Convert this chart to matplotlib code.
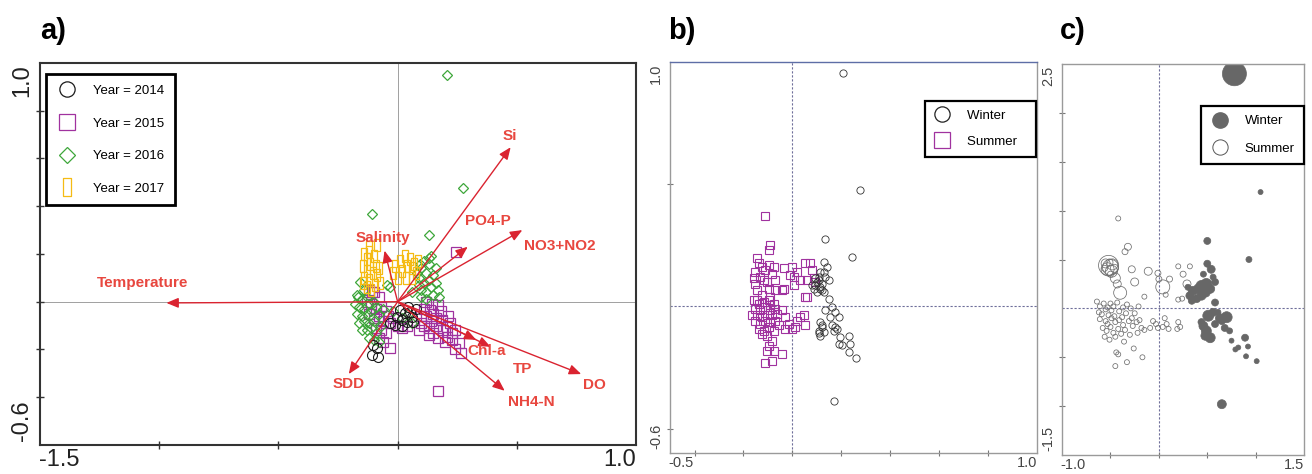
import numpy as np
import matplotlib
matplotlib.use("Agg")
import matplotlib.pyplot as plt
from matplotlib.lines import Line2D
from matplotlib.path import Path

plt.rcParams['font.family'] = ['Liberation Sans', 'DejaVu Sans']

# ---------------- panel a : samples by year (axis 1 / axis 2 scores)
year_labels = ['Year = 2014', 'Year = 2015', 'Year = 2016', 'Year = 2017']

a2014 = np.array([
    (0.01, -0.035), (0.031, -0.049), (0.052, -0.042), (0.017, -0.077), (0.038, -0.084),
    (0.059, -0.063), (-0.004, -0.063), (-0.032, -0.09), (-0.011, -0.098), (0.075, -0.03),
    (0.045, -0.02), (-0.102, -0.181), (-0.088, -0.195), (-0.109, -0.223), (-0.081, -0.23),
    (0.02, -0.1), (0.065, -0.085)])

a2015 = np.array([
    (-0.12, 0.05), (-0.10, 0.04), (-0.08, 0.02), (-0.11, -0.01), (-0.09, -0.03), (-0.07, -0.02),
    (-0.05, -0.04), (-0.12, -0.05), (-0.10, -0.07), (-0.08, -0.06), (-0.06, -0.08), (-0.04, -0.06),
    (-0.03, -0.09), (-0.09, -0.11), (-0.07, -0.12), (-0.05, -0.13), (-0.08, -0.15), (-0.06, -0.17),
    (-0.034, -0.195), (0.00, -0.10), (0.02, -0.11), (0.04, -0.10), (-0.02, -0.07), (-0.13, 0.0),
    (-0.109, 0.042),
    (0.135, -0.035), (0.17, -0.014), (0.187, -0.077), (0.099, -0.091), (0.205, -0.105),
    (0.24, -0.119), (0.205, -0.147), (0.258, -0.174), (0.267, -0.216), (0.11, -0.03),
    (0.12, -0.06), (0.14, -0.08), (0.15, -0.05), (0.16, -0.10), (0.13, -0.11), (0.18, -0.04),
    (0.19, -0.12), (0.22, -0.09), (0.11, -0.10), (0.15, -0.13), (0.17, -0.15), (0.20, -0.17),
    (0.23, -0.16), (0.24, -0.2), (0.10, -0.06), (0.12, 0.0), (0.145, -0.01), (0.21, -0.06),
    (0.23, -0.13), (0.09, -0.12), (0.16, -0.07), (0.13, -0.14),
    (0.245, 0.207), (0.17, -0.374)])

a2016 = np.array([
    (0.205, 0.95), (0.276, 0.478), (-0.109, 0.366), (0.131, 0.28), (0.131, 0.182),
    (-0.034, 0.063), (-0.157, 0.084), (-0.166, 0.021), (-0.046, 0.07), (0.059, 0.042),
    (0.08, 0.12), (0.09, 0.10), (0.10, 0.14), (0.11, 0.08), (0.12, 0.12), (0.13, 0.09),
    (0.14, 0.06), (0.10, 0.05), (0.12, 0.04), (0.15, 0.11), (0.16, 0.08), (0.13, 0.16),
    (0.14, 0.19), (0.11, 0.17), (0.09, 0.07), (0.15, 0.03), (0.17, 0.05), (0.12, 0.01),
    (0.16, 0.14), (0.10, 0.02), (0.175, 0.02), (0.095, 0.16),
    (-0.17, 0.03), (-0.15, 0.01), (-0.13, 0.02), (-0.16, -0.02), (-0.14, -0.03), (-0.12, -0.01),
    (-0.10, 0.0), (-0.17, -0.05), (-0.15, -0.06), (-0.13, -0.05), (-0.11, -0.04), (-0.09, -0.02),
    (-0.16, -0.09), (-0.14, -0.08), (-0.12, -0.09), (-0.10, -0.08), (-0.08, -0.05), (-0.13, -0.12),
    (-0.11, -0.11), (-0.15, -0.12), (-0.09, -0.13), (-0.12, -0.15), (-0.10, -0.16), (-0.07, -0.10),
    (-0.06, -0.03), (-0.18, -0.01), (-0.08, -0.17), (-0.14, 0.05),
    (0.02, -0.07), (0.06, -0.09), (0.045, -0.05), (-0.02, -0.04)])

a2017 = np.array([
    (-0.14, 0.20), (-0.13, 0.18), (-0.12, 0.21), (-0.145, 0.15), (-0.13, 0.13), (-0.115, 0.16),
    (-0.10, 0.19), (-0.09, 0.15), (-0.14, 0.10), (-0.12, 0.09), (-0.105, 0.12), (-0.085, 0.11),
    (-0.075, 0.08), (-0.13, 0.06), (-0.11, 0.05), (-0.095, 0.07), (-0.088, 0.238), (-0.12, 0.23),
    (-0.08, 0.14), (-0.145, 0.08),
    (-0.02, 0.12), (-0.01, 0.15), (0.01, 0.17), (0.02, 0.13), (0.035, 0.10), (0.05, 0.18),
    (0.06, 0.14), (0.07, 0.16), (0.075, 0.12), (0.085, 0.17), (0.04, 0.15), (0.0, 0.10),
    (0.06, 0.10), (0.03, 0.19)])

# environmental vectors (arrow tips)
env_names = ['Temperature', 'Si', 'PO4-P', 'NO3+NO2', 'Salinity', 'SDD', 'Chl-a', 'TP', 'NH4-N', 'DO']
env_x = [-0.97, 0.474, 0.294, 0.523, -0.055, -0.205, 0.39, 0.33, 0.449, 0.77]
env_y = [-0.005, 0.647, 0.23, 0.30, 0.214, -0.303, -0.189, -0.16, -0.373, -0.303]
# where the names sit
env_lab_x = [-1.07, 0.47, 0.38, 0.68, -0.06, -0.205, 0.373, 0.523, 0.562, 0.827]
env_lab_y = [0.08, 0.695, 0.34, 0.233, 0.266, -0.345, -0.205, -0.283, -0.419, -0.349]

# ---------------- panel b : winter / summer sample scores
b_winter = np.array([
    (0.206, 0.954), (0.276, 0.477), (0.132, 0.276), (0.244, 0.203), (0.172, -0.387),
    (0.128, 0.182), (0.142, 0.162), (0.114, 0.141), (0.135, 0.121), (0.148, 0.107),
    (0.108, 0.107), (0.094, 0.086), (0.114, 0.073), (0.101, 0.059), (0.128, 0.059),
    (0.087, 0.073), (0.121, 0.093), (0.108, 0.121), (0.094, 0.114), (0.08, 0.086),
    (0.10, 0.10), (0.115, 0.08), (0.13, 0.14), (0.12, 0.065),
    (0.148, 0.032), (0.162, -0.003), (0.135, -0.016), (0.176, -0.023), (0.155, -0.044),
    (0.189, -0.044), (0.114, -0.065), (0.121, -0.085), (0.108, -0.099), (0.128, -0.106),
    (0.114, -0.12), (0.162, -0.078), (0.176, -0.085), (0.183, -0.092), (0.169, -0.099),
    (0.12, -0.075), (0.11, -0.11), (0.196, -0.126), (0.23, -0.12), (0.203, -0.16),
    (0.237, -0.154), (0.23, -0.188), (0.26, -0.211), (0.189, -0.154)])

b_summer = np.array([
    (-0.113, 0.37), (-0.09, 0.251), (-0.097, 0.23),
    (-0.144, 0.196), (-0.138, 0.176), (-0.151, 0.141), (-0.124, 0.162), (-0.110, 0.148),
    (-0.131, 0.121), (-0.117, 0.107), (-0.151, 0.093), (-0.103, 0.100), (-0.083, 0.134),
    (-0.069, 0.107), (-0.097, 0.073), (-0.069, 0.066), (-0.042, 0.066), (-0.090, 0.039),
    (-0.124, 0.046), (-0.144, 0.066), (-0.158, 0.114), (-0.097, 0.169), (-0.076, 0.162),
    (-0.035, 0.155), (-0.001, 0.162), (0.005, 0.121), (-0.009, 0.128), (0.018, 0.141),
    (0.053, 0.176), (0.073, 0.176), (0.08, 0.148), (0.06, 0.107), (0.005, 0.086),
    (0.053, 0.039), (-0.035, 0.073), (0.087, 0.114), (0.033, 0.107), (0.06, 0.039), (0.094, 0.10),
    (-0.158, 0.025), (-0.138, 0.011), (-0.117, 0.018), (-0.097, 0.025), (-0.076, 0.011),
    (-0.151, -0.010), (-0.131, -0.016), (-0.110, -0.003), (-0.090, -0.016), (-0.069, -0.010),
    (-0.165, -0.037), (-0.144, -0.037), (-0.124, -0.044), (-0.103, -0.037), (-0.083, -0.037),
    (-0.062, -0.030), (-0.151, -0.058), (-0.131, -0.071), (-0.110, -0.058), (-0.090, -0.064),
    (-0.069, -0.058), (-0.138, -0.092), (-0.117, -0.099), (-0.097, -0.085), (-0.076, -0.099),
    (-0.124, -0.113), (-0.103, -0.120), (-0.056, -0.078), (-0.144, 0.025), (-0.090, 0.004),
    (-0.083, -0.140), (-0.103, -0.181), (-0.076, -0.181), (-0.042, -0.195), (-0.113, -0.233),
    (-0.083, -0.222), (-0.097, -0.161),
    (-0.029, -0.044), (-0.015, -0.071), (0.018, -0.058), (0.012, -0.085), (0.033, -0.044),
    (0.053, -0.078), (-0.001, -0.092), (-0.029, -0.092), (-0.042, -0.016), (0.046, -0.037)])

# ---------------- panel c : bubble scores (size = abundance)
c_winter = np.array([
    (0.78, 2.40, 24), (1.05, 1.19, 5), (0.50, 0.69, 7), (0.93, 0.50, 6), (0.65, -0.98, 9),
    (0.50, 0.457, 7), (0.54, 0.40, 8), (0.56, 0.32, 6), (0.58, 0.27, 7), (0.46, 0.35, 6),
    (0.44, 0.23, 11), (0.49, 0.25, 11), (0.41, 0.20, 10), (0.35, 0.18, 9), (0.32, 0.13, 8),
    (0.39, 0.10, 8), (0.48, 0.166, 10), (0.53, 0.20, 9), (0.44, 0.13, 9), (0.34, 0.078, 7),
    (0.30, 0.216, 6), (0.58, 0.06, 7),
    (0.51, -0.075, 11), (0.56, -0.04, 8), (0.61, -0.04, 6), (0.63, -0.10, 9), (0.70, -0.09, 11),
    (0.65, -0.13, 7), (0.46, -0.18, 9), (0.49, -0.23, 10), (0.48, -0.28, 9), (0.53, -0.30, 10),
    (0.44, -0.14, 7), (0.58, -0.16, 7), (0.68, -0.20, 7), (0.73, -0.23, 6), (0.75, -0.33, 5),
    (0.79, -0.42, 5), (0.89, -0.30, 7), (0.92, -0.39, 5), (0.90, -0.49, 5), (1.01, -0.54, 5),
    (0.82, -0.40, 5)])

c_summer = np.array([
    (-0.52, 0.44, 20), (-0.50, 0.42, 16), (-0.53, 0.40, 13), (-0.48, 0.45, 11), (-0.55, 0.46, 9),
    (-0.49, 0.38, 12), (-0.46, 0.41, 8), (-0.51, 0.47, 7), (-0.56, 0.41, 6), (-0.50, 0.35, 6),
    (-0.45, 0.31, 10), (-0.40, 0.16, 13), (-0.43, 0.25, 8),
    (-0.32, 0.63, 7), (-0.35, 0.58, 6), (-0.42, 0.92, 5), (-0.11, 0.38, 8), (-0.25, 0.27, 8),
    (-0.28, 0.40, 7), (0.04, 0.22, 14), (-0.01, 0.36, 6), (0.0, 0.30, 6), (0.11, 0.30, 6),
    (0.20, 0.43, 5), (0.32, 0.43, 5), (0.29, 0.25, 8), (0.25, 0.35, 6), (0.20, 0.09, 5),
    (0.24, 0.10, 5), (0.07, 0.14, 5), (-0.15, 0.12, 5), (-0.21, 0.02, 5),
    (-0.64, 0.07, 5), (-0.61, 0.02, 5), (-0.57, 0.05, 5), (-0.53, 0.01, 5), (-0.50, 0.05, 5),
    (-0.47, 0.02, 5), (-0.43, 0.06, 5), (-0.37, 0.01, 5), (-0.33, 0.04, 5), (-0.29, 0.00, 5),
    (-0.62, -0.04, 5), (-0.59, -0.06, 5), (-0.55, -0.01, 5), (-0.52, -0.07, 5), (-0.49, -0.02, 5),
    (-0.46, -0.08, 5), (-0.41, -0.03, 5), (-0.38, -0.09, 5), (-0.34, -0.05, 5), (-0.28, -0.10, 5),
    (-0.25, -0.05, 5), (-0.61, -0.11, 5), (-0.55, -0.13, 5), (-0.53, -0.16, 5), (-0.49, -0.10, 5),
    (-0.45, -0.14, 5), (-0.41, -0.12, 5), (-0.37, -0.17, 5), (-0.31, -0.13, 5), (-0.27, -0.18, 5),
    (-0.23, -0.14, 5), (-0.58, -0.20, 5), (-0.54, -0.23, 5), (-0.50, -0.19, 5), (-0.47, -0.25, 5),
    (-0.42, -0.21, 5), (-0.39, -0.26, 5), (-0.35, -0.22, 5), (-0.30, -0.27, 5), (-0.56, -0.29, 5),
    (-0.51, -0.32, 5), (-0.45, -0.29, 5), (-0.20, -0.12, 5), (-0.18, -0.20, 5), (-0.22, -0.25, 5),
    (-0.06, -0.13, 5), (-0.01, -0.20, 5), (0.06, -0.10, 5), (0.08, -0.16, 5), (0.04, -0.19, 5),
    (-0.09, -0.20, 5), (-0.03, -0.16, 5), (0.20, -0.14, 5), (0.22, -0.19, 5), (0.19, -0.21, 5),
    (0.10, -0.21, 5), (-0.15, -0.22, 5),
    (-0.44, -0.45, 5), (-0.42, -0.47, 5), (-0.33, -0.55, 5), (-0.45, -0.59, 5), (-0.17, -0.50, 5),
    (-0.26, -0.41, 5), (-0.36, -0.34, 5)])

# ---------------- colours
c_black = '#1a1a1a'
c_purple = '#a0329f'
c_green = '#3da63a'
c_yellow = '#f5bb14'
c_arrow = '#da2330'
c_text = '#e8473f'
c_gray = '#676767'

rect_marker = Path([(-0.42, -1), (0.42, -1), (0.42, 1), (-0.42, 1), (-0.42, -1)],
                   [Path.MOVETO, Path.LINETO, Path.LINETO, Path.LINETO, Path.CLOSEPOLY])

fig = plt.figure(figsize=(13.12, 4.74), dpi=100)
ax_a = fig.add_axes([0.0305, 0.0612, 0.4543, 0.806])
ax_b = fig.add_axes([0.5107, 0.0443, 0.2797, 0.825])
ax_c = fig.add_axes([0.8095, 0.040, 0.1845, 0.825])


def end_labels(ax, xl, yl, size, color, pad=5):
    kw = dict(xycoords='axes fraction', textcoords='offset points', fontsize=size, color=color)
    ax.annotate(xl[0], xy=(0, 0), xytext=(-1, -pad), ha='left', va='top', **kw)
    ax.annotate(xl[1], xy=(1, 0), xytext=(0, -pad), ha='right', va='top', **kw)
    ax.annotate(yl[1], xy=(0, 1), xytext=(-5, -1), ha='right', va='top', rotation=90, **kw)
    ax.annotate(yl[0], xy=(0, 0), xytext=(-5, 3), ha='right', va='bottom', rotation=90, **kw)


# ---------------- panel a
ax = ax_a
ax.set_xlim(-1.5, 1.0)
ax.set_ylim(-0.6, 1.0)
ax.axhline(0, color='#a0a0a0', lw=0.7, zorder=0)
ax.axvline(0, color='#a0a0a0', lw=0.7, zorder=0)
ax.plot(a2015[:, 0], a2015[:, 1], ls='none', marker='s', ms=7, mfc='none', mec=c_purple, mew=0.9)
ax.plot(a2016[:, 0], a2016[:, 1], ls='none', marker='D', ms=5.3, mfc='none', mec=c_green, mew=0.9)
ax.plot(a2017[:, 0], a2017[:, 1], ls='none', marker=rect_marker, ms=9, mfc='none', mec=c_yellow, mew=0.9)
ax.plot(a2014[:, 0], a2014[:, 1], ls='none', marker='o', ms=7.2, mfc='none', mec=c_black, mew=0.8)
for name, ex, ey, lx, ly in zip(env_names, env_x, env_y, env_lab_x, env_lab_y):
    ax.annotate('', xy=(ex, ey), xytext=(0, 0),
                arrowprops=dict(arrowstyle='-|>,head_length=0.6,head_width=0.25', color=c_arrow,
                                lw=1.0, mutation_scale=12, shrinkA=0, shrinkB=0))
    ax.text(lx, ly, name, color=c_text, fontsize=11, fontweight='bold', ha='center', va='center')
ax.set_xticks([-1.0, -0.5, 0, 0.5])
ax.set_yticks([-0.4, -0.2, 0, 0.2, 0.4, 0.6, 0.8])
ax.set_xticklabels([])
ax.set_yticklabels([])
ax.tick_params(direction='inout', length=6, width=1, color='#333333')
for s in ax.spines.values():
    s.set_color('#333333')
    s.set_linewidth(1.5)
end_labels(ax, ['-1.5', '1.0'], ['-0.6', '1.0'], 17, '#222222', pad=3)
handles = [Line2D([], [], ls='none', marker='o', ms=11, mfc='none', mec=c_black, mew=0.9),
           Line2D([], [], ls='none', marker='s', ms=11, mfc='none', mec=c_purple, mew=0.9),
           Line2D([], [], ls='none', marker='D', ms=8, mfc='none', mec=c_green, mew=0.9),
           Line2D([], [], ls='none', marker=rect_marker, ms=13, mfc='none', mec=c_yellow, mew=0.9)]
leg = ax.legend(handles, year_labels, loc='upper left', bbox_to_anchor=(0.010, 0.971),
                borderaxespad=0, fontsize=9.5, fancybox=False, framealpha=1,
                labelspacing=1.55, borderpad=0.8, handletextpad=1.2, handlelength=1.6)
leg.get_frame().set_edgecolor('black')
leg.get_frame().set_linewidth(2)
fig.text(40 / 1312, 1 - 39 / 474, 'a)', fontsize=21, fontweight='bold')

# ---------------- panel b
ax = ax_b
ax.set_xlim(-0.5, 1.0)
ax.set_ylim(-0.6, 1.0)
ax.axhline(0, color='#6e6e9a', lw=0.8, ls=(0, (2, 1.6)), zorder=0)
ax.axvline(0, color='#6e6e9a', lw=0.8, ls=(0, (2, 1.6)), zorder=0)
ax.plot(b_summer[:, 0], b_summer[:, 1], ls='none', marker='s', ms=5.4, mfc='none', mec=c_purple, mew=0.8)
ax.plot(b_winter[:, 0], b_winter[:, 1], ls='none', marker='o', ms=5.2, mfc='none', mec='#333333', mew=0.6)
ax.set_xticks([-0.4, -0.2, 0, 0.2, 0.4, 0.6, 0.8])
ax.set_yticks([-0.5, 0.5])
ax.set_xticklabels([])
ax.set_yticklabels([])
ax.tick_params(direction='inout', length=4, width=0.8, color='#777777')
for s in ax.spines.values():
    s.set_color('#9a9a9a')
    s.set_linewidth(1.0)
ax.spines['top'].set_color('#5e6ea6')
end_labels(ax, ['-0.5', '1.0'], ['-0.6', '1.0'], 10.5, '#444444', pad=2)
handles = [Line2D([], [], ls='none', marker='o', ms=11, mfc='none', mec='#222222', mew=0.9),
           Line2D([], [], ls='none', marker='s', ms=11, mfc='none', mec=c_purple, mew=0.9)]
leg = ax.legend(handles, ['Winter     ', 'Summer   '], loc='upper right', bbox_to_anchor=(0.998, 0.90),
                borderaxespad=0, fontsize=9.5, fancybox=False, framealpha=1,
                labelspacing=1.05, borderpad=0.65, handletextpad=1.3, handlelength=1.2)
leg.get_frame().set_edgecolor('black')
leg.get_frame().set_linewidth(1.6)
fig.text(668 / 1312, 1 - 39 / 474, 'b)', fontsize=21, fontweight='bold')

# ---------------- panel c
ax = ax_c
ax.set_xlim(-1.0, 1.5)
ax.set_ylim(-1.5, 2.5)
ax.axhline(0, color='#6e6e9a', lw=0.8, ls=(0, (2, 1.6)), zorder=0)
ax.axvline(0, color='#6e6e9a', lw=0.8, ls=(0, (2, 1.6)), zorder=0)
ax.scatter(c_summer[:, 0], c_summer[:, 1], s=(c_summer[:, 2] * 0.72) ** 2,
           facecolors='none', edgecolors='#6f6f6f', linewidths=0.55)
ax.scatter(c_winter[:, 0], c_winter[:, 1], s=(c_winter[:, 2] * 0.72) ** 2,
           facecolors=c_gray, edgecolors=c_gray, linewidths=0.5)
ax.set_xticks([-0.5, 0, 0.5, 1.0])
ax.set_yticks([-1.0, -0.5, 0.5, 1.0, 1.5, 2.0])
ax.set_xticklabels([])
ax.set_yticklabels([])
ax.tick_params(direction='inout', length=4, width=0.8, color='#777777')
for s in ax.spines.values():
    s.set_color('#9a9a9a')
    s.set_linewidth(1.0)
end_labels(ax, ['-1.0', '1.5'], ['-1.5', '2.5'], 10.5, '#444444', pad=2)
handles = [Line2D([], [], ls='none', marker='o', ms=11, mfc=c_gray, mec=c_gray),
           Line2D([], [], ls='none', marker='o', ms=11, mfc='none', mec='#555555', mew=0.7)]
leg = ax.legend(handles, ['Winter', 'Summer'], loc='upper right', bbox_to_anchor=(1.0, 0.893),
                borderaxespad=0, fontsize=9.5, fancybox=False, framealpha=1,
                labelspacing=1.15, borderpad=0.7, handletextpad=1.2, handlelength=1.4)
leg.get_frame().set_edgecolor('black')
leg.get_frame().set_linewidth(1.6)
fig.text(1060 / 1312, 1 - 39 / 474, 'c)', fontsize=21, fontweight='bold')

fig.savefig('out.png', dpi=100)
